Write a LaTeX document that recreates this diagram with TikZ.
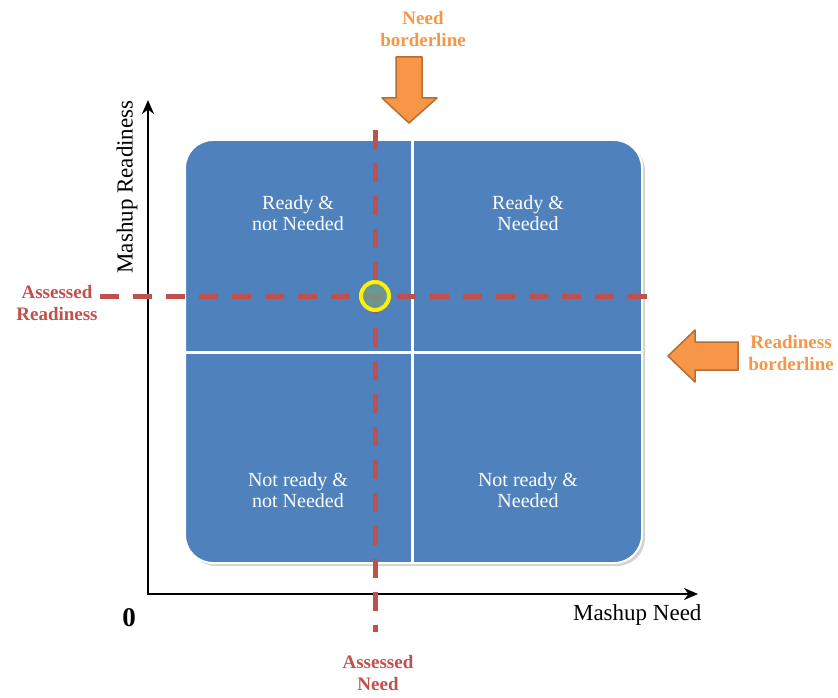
\documentclass[tikz,border=0pt]{standalone}
\usepackage{fontspec}
\setmainfont{Liberation Serif}
\usetikzlibrary{arrows.meta, shadows}
\definecolor{quadblue}{HTML}{4F81BD}
\definecolor{assessred}{HTML}{C0504D}
\definecolor{borderorange}{HTML}{F79646}
\definecolor{borderbrown}{HTML}{B66D31}
\definecolor{pointfill}{HTML}{6F9A8C}

\begin{document}
\begin{tikzpicture}[x=1pt, y=-1pt,
    quadtext/.style={text=white, align=center, font=\fontsize{20}{21}\selectfont},
    axislabel/.style={font=\fontsize{23}{24}\selectfont},
    assesslabel/.style={text=assessred, align=center, font=\fontsize{19}{22}\selectfont\bfseries},
    borderlabel/.style={text=borderorange, align=center, font=\fontsize{19}{22}\selectfont\bfseries},
    assessline/.style={assessred, line width=5pt, dash pattern=on 19pt off 14pt},
    borderarrow/.style={fill=borderorange, draw=borderbrown, line width=1.5pt, line join=round}]
  \useasboundingbox (0,0) rectangle (838,698);

  % quadrant board
  \node[fill=quadblue, draw=white, line width=2pt, rounded corners=28pt,
        minimum width=457pt, minimum height=423pt,
        drop shadow={shadow xshift=3pt, shadow yshift=-3pt, opacity=0.35}] (board) at (413.5,351.5) {};
  \draw[white, line width=3pt] (412,140) -- (412,563);
  \draw[white, line width=3pt] (185,352) -- (642,352);

  \node[quadtext] (readynot) at (298,213) {Ready \&\\not Needed};
  \node[quadtext] (ready)    at (528,213) {Ready \&\\Needed};
  \node[quadtext] (notnot)   at (298,490) {Not ready \&\\not Needed};
  \node[quadtext] (notready) at (528,490) {Not ready \&\\Needed};

  % axes
  \coordinate (origin) at (148,594);
  \coordinate (ytop) at (148,100);
  \coordinate (xend) at (698,594);
  \draw[line width=2.5pt, {Stealth[length=14pt, width=12pt]}-{Stealth[length=14pt, width=12pt]}]
    (ytop) -- (origin) -- (xend);
  \node[axislabel, rotate=90] (ylabel) at (127,187) {Mashup Readiness};
  \node[axislabel, anchor=east] (xlabel) at (705,615) {Mashup Need};
  \node[font=\fontsize{27}{27}\selectfont\bfseries] (zero) at (129,618) {0};

  % assessed position
  \coordinate (readyleft) at (100,296);
  \coordinate (readyright) at (652,296);
  \coordinate (needtop) at (375,130);
  \coordinate (needbottom) at (375,632);
  \draw[assessline] (readyleft) -- (readyright);
  \draw[assessline] (needtop) -- (needbottom);
  \node[circle, draw=yellow, line width=4pt, fill=pointfill, fill opacity=0.85,
        minimum size=28pt, inner sep=0pt] (assessed) at (375,296) {};

  \node[assesslabel] (assready) at (57,303) {Assessed\\Readiness};
  \node[assesslabel] (assneed)  at (378,673) {Assessed\\Need};

  % borderlines
  \node[borderlabel] (needborder) at (423,29) {Need\\borderline};
  \draw[borderarrow] (396,57) -- (422,57) -- (422,98) -- (437,98) -- (409,123)
    -- (382,98) -- (396,98) -- cycle;
  \node[borderlabel] (readyborder) at (791,353) {Readiness\\borderline};
  \draw[borderarrow] (738,342) -- (695,342) -- (695,330) -- (668,356)
    -- (695,382) -- (695,370) -- (738,370) -- cycle;
\end{tikzpicture}
\end{document}
